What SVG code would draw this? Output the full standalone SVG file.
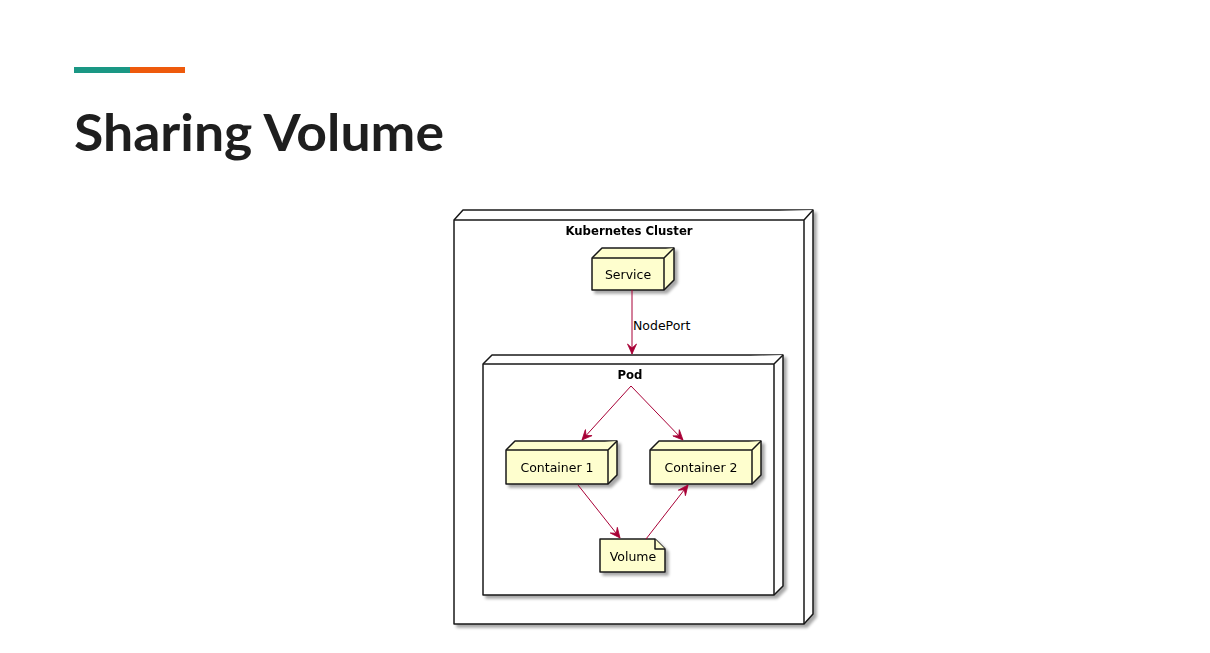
<svg xmlns="http://www.w3.org/2000/svg" width="1210" height="653" viewBox="0 0 1210 653">
<defs>
<style>
.box{fill:#FEFECE;stroke:#181818;stroke-width:1.5;stroke-linejoin:round}
.frame{fill:#FFFFFF;stroke:#181818;stroke-width:1.5;stroke-linejoin:round}
.lbl{font-family:"DejaVu Sans","Liberation Sans",sans-serif;font-size:12.5px;fill:#000}
.bold{font-family:"DejaVu Sans","Liberation Sans",sans-serif;font-size:11.7px;font-weight:bold;fill:#000}
.edge{fill:none;stroke:#A80036;stroke-width:1}
</style>
<filter id="sh" x="-10%" y="-10%" width="130%" height="130%">
<feGaussianBlur in="SourceAlpha" stdDeviation="1.8"/>
<feOffset dx="3" dy="3" result="b"/>
<feComponentTransfer><feFuncA type="linear" slope="0.35"/></feComponentTransfer>
<feMerge><feMergeNode/><feMergeNode in="SourceGraphic"/></feMerge>
</filter>
<marker id="arr" viewBox="0 0 12 10" refX="11" refY="5" markerWidth="12" markerHeight="10" markerUnits="userSpaceOnUse" orient="auto">
<path d="M11,5 L1,0.5 L5,5 L1,9.5 Z" fill="#A80036" stroke="#A80036" stroke-width="0.8"/>
</marker>
</defs>
<rect width="1210" height="653" fill="#FFFFFF"/>
<g id="header">
<rect x="74" y="67" width="56" height="6" fill="#1A9784"/>
<rect x="130" y="67" width="55" height="6" fill="#EE5A0C"/>
<text x="74" y="151" font-family="Lato,'Open Sans',sans-serif" font-weight="bold" font-size="52" fill="#1E1E1E" textLength="370" lengthAdjust="spacingAndGlyphs">Sharing Volume</text>
</g>
<g id="cluster" filter="url(#sh)">
<path class="frame" d="M454,220 L463,210 L813,210 L813,614 L804,624 L454,624 Z"/>
<path class="frame" d="M454,220 L804,220 L813,210 M804,220 L804,624"/>
<text class="bold" x="629" y="235" text-anchor="middle">Kubernetes Cluster</text>
</g>
<g id="pod" filter="url(#sh)">
<path class="frame" d="M483,364 L492,355 L783,355 L783,586 L774,595 L483,595 Z"/>
<path class="frame" d="M483,364 L774,364 L783,355 M774,364 L774,595"/>
<text class="bold" x="630" y="379" text-anchor="middle">Pod</text>
</g>
<g id="service" filter="url(#sh)">
<path class="box" d="M592,258 L602,248 L674,248 L674,280 L664,290 L592,290 Z"/>
<path class="box" d="M592,258 L664,258 L674,248 M664,258 L664,290"/>
<text class="lbl" x="628" y="279" text-anchor="middle">Service</text>
</g>
<g id="container1" filter="url(#sh)">
<path class="box" d="M506,450 L515,441 L617,441 L617,475 L608,484 L506,484 Z"/>
<path class="box" d="M506,450 L608,450 L617,441 M608,450 L608,484"/>
<text class="lbl" x="557" y="472" text-anchor="middle">Container 1</text>
</g>
<g id="container2" filter="url(#sh)">
<path class="box" d="M650,450 L659,441 L761,441 L761,475 L752,484 L650,484 Z"/>
<path class="box" d="M650,450 L752,450 L761,441 M752,450 L752,484"/>
<text class="lbl" x="701" y="472" text-anchor="middle">Container 2</text>
</g>
<g id="volume" filter="url(#sh)">
<path class="box" d="M600,539 L655,539 L665,549 L665,572 L600,572 Z"/>
<path class="box" d="M655,539 L655,549 L665,549"/>
<text class="lbl" x="633" y="561" text-anchor="middle">Volume</text>
</g>
<g id="connectors">
<line class="edge" x1="632" y1="290" x2="632" y2="354" marker-end="url(#arr)"/>
<text class="lbl" x="633" y="330" font-size="10.8">NodePort</text>
<line class="edge" x1="631" y1="386" x2="582" y2="440" marker-end="url(#arr)"/>
<line class="edge" x1="631" y1="386" x2="683" y2="440" marker-end="url(#arr)"/>
<line class="edge" x1="578" y1="485" x2="620" y2="538" marker-end="url(#arr)"/>
<line class="edge" x1="646" y1="539" x2="688" y2="485" marker-end="url(#arr)"/>
</g>
</svg>
